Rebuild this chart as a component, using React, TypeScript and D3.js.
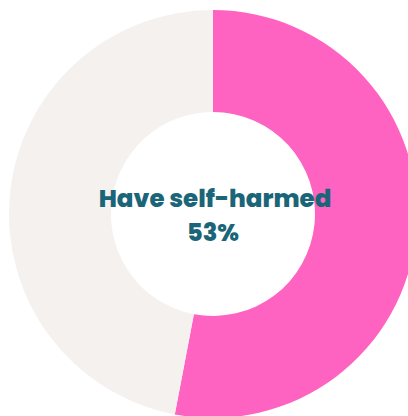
import React from "react";
import * as d3 from "d3";

const categories = ["Have self-harmed", "Have not self-harmed"];
const values = [53, 47];
const colors = ["#FF63C1", "#F5F1EF"];
const centerLabel = "Have self-harmed";
const centerValue = "53%";

export default function App() {
  const W = 408, H = 416;
  const cx = 213, cy = 214;
  const outerR = 204, innerR = 102;
  const pie = d3.pie<number>().sort(null).value((d) => d);
  const arc = d3.arc<d3.PieArcDatum<number>>().innerRadius(innerR).outerRadius(outerR);
  const arcs = pie(values);
  return (
    <svg width={W} height={H} style={{ position: "absolute", left: 0, top: 0, background: "#fff" }}>
      <g transform={`translate(${cx},${cy})`}>
        {arcs.map((a, i) => (
          <path key={categories[i]} d={arc(a) || ""} fill={colors[i]} />
        ))}
        <text x={2} y={-7} textAnchor="middle" fontFamily="Poppins, 'Open Sans', sans-serif" fontWeight={800} fontSize={24.5} fill="#1A6577">
          {centerLabel}
        </text>
        <text x={0} y={27} textAnchor="middle" fontFamily="Poppins, 'Open Sans', sans-serif" fontWeight={800} fontSize={24} fill="#1A6577">
          {centerValue}
        </text>
      </g>
    </svg>
  );
}
